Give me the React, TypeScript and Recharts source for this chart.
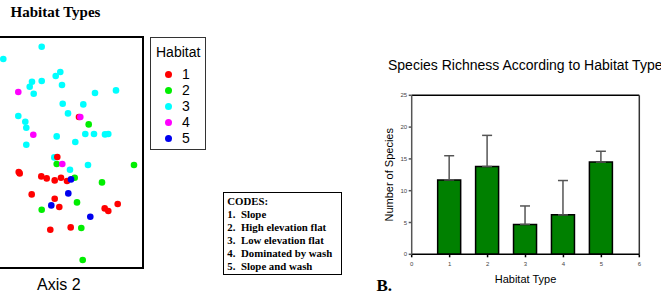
import React from 'react';
import { ScatterChart, Scatter, XAxis, YAxis, BarChart, Bar, ErrorBar, ReferenceLine } from 'recharts';

// habitat codes and colours (scatter legend + codes box)
const habitatCodes = ['1', '2', '3', '4', '5'];
const habitatColors = ['#ff0000', '#00ee00', '#00ffff', '#ff00ff', '#0000ee'];
const codeNames = ['Slope', 'High elevation flat', 'Low elevation flat', 'Dominated by wash', 'Slope and wash'];

// ordination scores (arbitrary axis units)
const habitat1 = [
  [89, 151], [67.3, 111], [28.7, 96], [29.7, 94.6], [51.3, 91.6], [56.7, 89.6], [64.7, 87.6],
  [71, 90.3], [77, 87], [41.7, 73.6], [64.7, 69.3], [69.3, 61], [114.7, 59.6], [118.3, 57],
  [127.7, 64], [60.3, 38.3], [80.7, 40.6],
];
const habitat2 = [
  [98.7, 143.6], [66.7, 104], [84.7, 90.3], [112, 85.6], [144, 103], [87, 65.6], [51.7, 58.3],
  [91.3, 40], [92.7, 8],
];
const habitat3 = [
  [51.7, 221.3], [13.3, 209], [70.3, 196], [65.7, 192], [42, 186.3], [39.7, 181.3], [43.7, 174.3],
  [51.7, 187], [72, 183], [105, 175], [126, 177.6], [72.7, 164.3], [93.3, 163.6], [78, 154.6],
  [28.3, 152], [35.3, 146.3], [36.3, 140.3], [66.7, 131.6], [95.3, 134], [104, 134], [115, 133.6],
  [118.3, 134], [85.3, 126], [36.3, 123.3], [64.3, 110.6], [98, 103], [80, 98.3],
];
const habitat4 = [[28.3, 176], [43.3, 133.3], [90.3, 151], [72.3, 104]];
const habitat5 = [[81, 88.6], [78.3, 74.6], [61.3, 62.6], [100.3, 51.3]];
const habitatPoints = [habitat1, habitat2, habitat3, habitat4, habitat5];
const drawOrder = [2, 1, 0, 3, 4];

// species richness bar chart
const barHabitats = [1, 2, 3, 4, 5];
const meanRichness = [11.7, 13.8, 4.7, 6.2, 14.5];
const richnessErr = [3.8, 4.9, 2.9, 5.4, 1.7];
const xTicks = [0, 1, 2, 3, 4, 5, 6];
const yTicks = [0, 5, 10, 15, 20, 25];

const barData = barHabitats.map((h, i) => ({
  habitat: h,
  richness: meanRichness[i],
  err: [0, richnessErr[i]],
}));

const sans = '"Liberation Sans", Arial, sans-serif';
const serif = '"Liberation Serif", "Times New Roman", serif';

const abs = (left: number, top: number, extra: React.CSSProperties = {}): React.CSSProperties => ({
  position: 'absolute',
  left,
  top,
  ...extra,
});

const HabitatScatter = () => (
  <div style={abs(-10, 37.3)}>
    <ScatterChart width={153.3} height={231} margin={{ top: 0, right: 0, bottom: 0, left: 0 }}>
      <XAxis type="number" dataKey="x" domain={[0, 153.3]} hide />
      <YAxis type="number" dataKey="y" domain={[0, 231]} hide />
      {drawOrder.map((k) => (
        <Scatter
          key={k}
          name={habitatCodes[k]}
          data={habitatPoints[k].map(([x, y]) => ({ x, y }))}
          isAnimationActive={false}
          shape={(p: any) => <circle cx={p.cx} cy={p.cy} r={3.3} fill={habitatColors[k]} />}
        />
      ))}
    </ScatterChart>
  </div>
);

const RichnessChart = () => (
  <div style={abs(360, 40)}>
    <BarChart
      width={301}
      height={255}
      data={barData}
      margin={{ top: 55.3, right: 21.7, bottom: 0.7, left: 21.7 }}
    >
      <XAxis
        type="number"
        dataKey="habitat"
        domain={[0, 6]}
        ticks={xTicks}
        height={40}
        tickSize={3}
        tickMargin={4}
        stroke="#000"
        strokeWidth={1.5}
        tick={{ fontSize: 6, fill: '#444', fontFamily: sans }}
        label={{ value: 'Habitat Type', position: 'insideBottom', offset: 11, fontSize: 11, fill: '#000', fontFamily: sans }}
      />
      <YAxis
        domain={[0, 25]}
        ticks={yTicks}
        width={30}
        tickSize={3}
        tickMargin={1.5}
        stroke="#555"
        strokeWidth={1.5}
        tick={{ fontSize: 6, fill: '#444', fontFamily: sans }}
        label={{
          value: 'Number of Species',
          angle: -90,
          position: 'insideLeft',
          offset: 7,
          fontSize: 11,
          fill: '#000',
          fontFamily: sans,
          style: { textAnchor: 'middle' },
        }}
      />
      <ReferenceLine y={25} stroke="#000" strokeWidth={1.5} />
      <ReferenceLine x={6} stroke="#333" strokeWidth={1.5} />
      <Bar dataKey="richness" barSize={23} fill="#008000" stroke="#000" strokeWidth={1.5} isAnimationActive={false}>
        <ErrorBar dataKey="err" width={5} stroke="#555" strokeWidth={1.5} direction="y" />
      </Bar>
    </BarChart>
  </div>
);

export default function App() {
  return (
    <div style={{ position: 'absolute', left: 0, top: 0, width: 661, height: 295, overflow: 'hidden', background: '#fff' }}>
      <div style={abs(10.5, 3, { fontFamily: serif, fontWeight: 'bold', fontSize: 15, lineHeight: '18px', whiteSpace: 'nowrap' })}>
        Habitat Types
      </div>

      <div style={abs(-11, 36.3, { width: 155.3, height: 233, border: '2px solid #000', boxSizing: 'border-box' })} />
      <HabitatScatter />

      <div style={abs(150, 37, { width: 56, height: 113, border: '1px solid #333', boxSizing: 'border-box', fontFamily: sans, fontSize: 14 })}>
        <div style={{ position: 'absolute', left: 5, top: 6, lineHeight: '16px' }}>Habitat</div>
        {habitatCodes.map((c, i) => (
          <div key={c} style={{ position: 'absolute', left: 14, top: 27 + i * 16, lineHeight: '16px', whiteSpace: 'nowrap' }}>
            <span style={{ display: 'inline-block', width: 7, height: 7, borderRadius: '50%', background: habitatColors[i], marginRight: 10, verticalAlign: 'middle' }} />
            <span style={{ verticalAlign: 'middle' }}>{c}</span>
          </div>
        ))}
      </div>

      <div style={abs(37, 276, { fontFamily: sans, fontSize: 16, lineHeight: '18px', whiteSpace: 'nowrap' })}>Axis 2</div>

      <div style={abs(222.7, 192, { width: 119, height: 83, border: '1px solid #000', boxSizing: 'border-box', fontFamily: serif, fontWeight: 'bold', fontSize: 10.8, lineHeight: '13px', padding: '2px 0 0 3.6px', whiteSpace: 'nowrap' })}>
        <div>CODES:</div>
        {codeNames.map((n, i) => (
          <div key={n}>
            <span style={{ display: 'inline-block', width: 13.7 }}>{habitatCodes[i]}.</span>
            {n}
          </div>
        ))}
      </div>

      <div style={abs(388, 57, { fontFamily: sans, fontSize: 14, lineHeight: '16px', whiteSpace: 'nowrap' })}>
        Species Richness According to Habitat Type
      </div>
      <RichnessChart />

      <div style={abs(376.5, 277, { fontFamily: serif, fontWeight: 'bold', fontSize: 17, lineHeight: '18px' })}>B.</div>
    </div>
  );
}
